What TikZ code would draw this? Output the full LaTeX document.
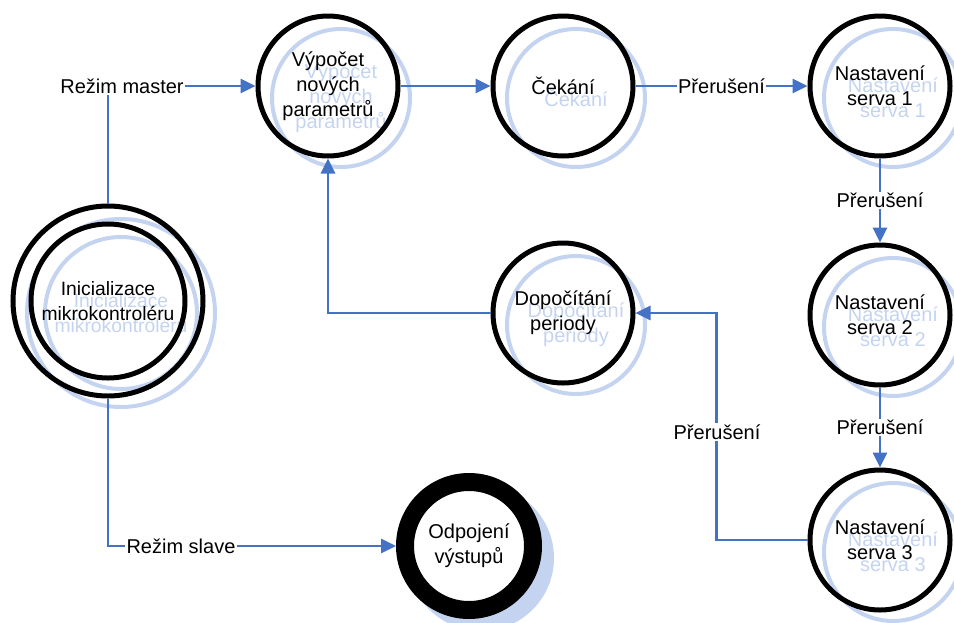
\documentclass[tikz,border=0pt]{standalone}
\usepackage{fontspec}
\setmainfont{Liberation Sans}
\usetikzlibrary{arrows.meta}
\definecolor{conncol}{RGB}{68,114,196}
\definecolor{shadcol}{RGB}{196,212,240}
\begin{document}
\begin{tikzpicture}[x=1pt,y=-1pt,
  txt/.style={font=\fontsize{20}{25}\selectfont, align=center},
  state/.style={txt, circle, draw=black, line width=5pt, minimum size=140pt, inner sep=0pt},
  shadring/.style={txt, circle, draw=shadcol, text=shadcol, line width=4pt, minimum size=138pt, inner sep=0pt},
  conn/.style={draw=conncol, line width=2.8pt, -{Triangle[length=15pt,width=14pt]}},
  lbl/.style={txt, fill=white, inner sep=1.5pt}]
\useasboundingbox (0,0) rectangle (954,622);
% shadows
\node[shadring] (vyp-s) at (341,98) {Výpočet\\nových\\parametrů};
\node[shadring] (cek-s) at (576,98) {Čekání};
\node[shadring] (s1-s) at (893,98) {Nastavení\\serva 1};
\node[shadring] (s2-s) at (893,327) {Nastavení\\serva 2};
\node[shadring] (s3-s) at (893,552) {Nastavení\\serva 3};
\node[shadring] (dop-s) at (576,325) {Dopočítání\\periody};
\node[shadring, minimum size=188pt] (initout-s) at (121,313) {};
\node[shadring, minimum size=152pt, font=\fontsize{19.3}{25}\selectfont] (init-s) at (121,313) {Inicializace\\mikrokontroléru};
\node[circle, fill=shadcol, minimum size=146pt, inner sep=0pt] (odp-s) at (481,558) {};
% states
\node[state] (vyp) at (328,86) {Výpočet\\nových\\parametrů};
\node[state] (cek) at (563,86) {Čekání};
\node[state] (s1) at (880,86) {Nastavení\\serva 1};
\node[state] (s2) at (880,315) {Nastavení\\serva 2};
\node[state] (s3) at (880,540) {Nastavení\\serva 3};
\node[state] (dop) at (563,313) {Dopočítání\\periody};
\node[state, minimum size=190pt] (initout) at (108,301) {};
\node[state, minimum size=154pt, font=\fontsize{19.3}{25}\selectfont] (init) at (108,301) {Inicializace\\mikrokontroléru};
\node[state, fill=white, line width=18pt, minimum size=128pt] (odp) at (469,546) {Odpojení\\výstupů};
% connectors
\draw[conn] (initout.north) |- (vyp.west) node[lbl, pos=0.5, xshift=14pt] (lm) {Režim master};
\draw[conn] (initout.south) |- (odp.west) node[lbl, pos=0.5, xshift=73pt] (ls) {Režim slave};
\draw[conn] (vyp.east) -- (cek.west);
\draw[conn] (cek.east) -- (s1.west) node[lbl, midway] (l1) {Přerušení};
\draw[conn] (s1.south) -- (s2.north) node[lbl, midway] (l2) {Přerušení};
\draw[conn] (s2.south) -- (s3.north) node[lbl, midway] (l3) {Přerušení};
\draw[conn] (s3.west) -- ++(-91,0) |- (dop.east);
\node[lbl] (l4) at (717,432) {Přerušení};
\draw[conn] (dop.west) -| (vyp.south);
\end{tikzpicture}
\end{document}
